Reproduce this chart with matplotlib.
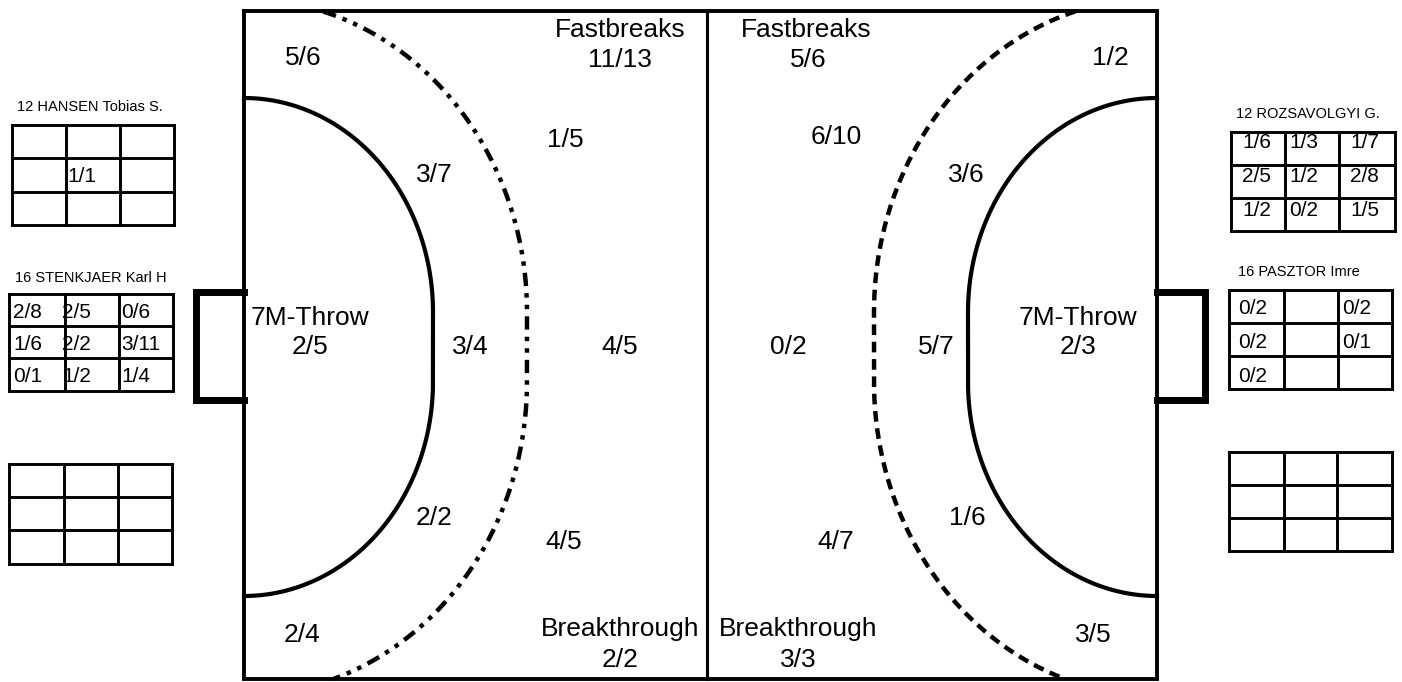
import matplotlib.pyplot as plt
import numpy as np

plt.rcParams['font.family'] = ['Liberation Sans', 'DejaVu Sans']

# ---- data: shots scored / attempted ----
left_zone_values = ["5/6", "3/7", "3/4", "2/2", "2/4", "1/5", "4/5", "4/5"]
left_fastbreaks = "11/13"
left_breakthrough = "2/2"
left_7m = "2/5"

right_zone_values = ["1/2", "3/6", "5/7", "1/6", "3/5", "6/10", "0/2", "4/7"]
right_fastbreaks = "5/6"
right_breakthrough = "3/3"
right_7m = "2/3"

left_keepers = ["12 HANSEN Tobias S.", "16 STENKJAER Karl H", ""]
left_keeper_grids = [
    [["", "", ""], ["", "1/1", ""], ["", "", ""]],
    [["2/8", "2/5", "0/6"], ["1/6", "2/2", "3/11"], ["0/1", "1/2", "1/4"]],
    [["", "", ""], ["", "", ""], ["", "", ""]],
]
right_keepers = ["12 ROZSAVOLGYI G.", "16 PASZTOR Imre", ""]
right_keeper_grids = [
    [["1/6", "1/3", "1/7"], ["2/5", "1/2", "2/8"], ["1/2", "0/2", "1/5"]],
    [["0/2", "", "0/2"], ["0/2", "", "0/1"], ["0/2", "", ""]],
    [["", "", ""], ["", "", ""], ["", "", ""]],
]

# ---- layout (pixel coordinates) ----
left_zone_pos = [(303, 58), (434, 175), (470, 347), (434, 518), (302, 635),
                 (565, 140), (620, 347), (564, 542)]
right_zone_pos = [(1110, 58), (966, 175), (936, 347), (967, 518), (1093, 635),
                  (836, 137), (788, 347), (836, 542)]

fig = plt.figure(figsize=(14.02, 6.82), dpi=100)
ax = fig.add_axes([0, 0, 1, 1])
ax.set_xlim(0, 1402)
ax.set_ylim(682, 0)
ax.axis('off')

X0, X1, Y0, Y1, XM = 244, 1157, 11, 679, 707
GP_TOP, GP_BOT = 312, 382

# court outline and centre line
ax.plot([X0, X1, X1, X0, X0], [Y0, Y0, Y1, Y1, Y0], color='black', lw=2.8,
        solid_joinstyle='miter')
ax.plot([XM, XM], [Y0, Y1], color='black', lw=2.2)

# goals
ax.plot([X0, 196, 196, X0], [GP_TOP - 20, GP_TOP - 20, GP_BOT + 18, GP_BOT + 18],
        color='black', lw=5, solid_joinstyle='miter')
ax.plot([X1, 1205, 1205, X1], [GP_TOP - 20, GP_TOP - 20, GP_BOT + 18, GP_BOT + 18],
        color='black', lw=5, solid_joinstyle='miter')


def goal_area(xpost, side, rx, ry):
    t = np.linspace(np.pi / 2, 0, 200)
    xu = xpost + side * rx * np.cos(t)
    yu = GP_TOP - ry * np.sin(t)
    xl = (xpost + side * rx * np.cos(t))[::-1]
    yl = (GP_BOT + ry * np.sin(t))[::-1]
    xs = np.concatenate([xu, xl])
    ys = np.concatenate([yu, yl])
    keep = (ys >= Y0) & (ys <= Y1)
    return xs[keep], ys[keep]


# 6 m lines
for xp, s in [(X0, 1), (X1, -1)]:
    gx, gy = goal_area(xp, s, 189, 214)
    ax.plot(gx, gy, color='black', lw=3)

# 9 m lines
gx, gy = goal_area(X0, 1, 283, 313)
ax.plot(gx, gy, color='black', lw=3.2, linestyle=(0, (3, 1.6, 1, 1.6, 1, 1.6)))
gx, gy = goal_area(X1, -1, 283, 314)
ax.plot(gx, gy, color='black', lw=3.2, linestyle=(0, (2.4, 1.5)))

FS = 19
for txt, (x, y) in zip(left_zone_values, left_zone_pos):
    ax.text(x, y, txt, fontsize=FS, ha='center', va='center')
for txt, (x, y) in zip(right_zone_values, right_zone_pos):
    ax.text(x, y, txt, fontsize=FS, ha='center', va='center')

ax.text(620, 30, "Fastbreaks", fontsize=FS, ha='center', va='center')
ax.text(620, 60, left_fastbreaks, fontsize=FS, ha='center', va='center')
ax.text(806, 30, "Fastbreaks", fontsize=FS, ha='center', va='center')
ax.text(808, 60, right_fastbreaks, fontsize=FS, ha='center', va='center')
ax.text(620, 629, "Breakthrough", fontsize=FS, ha='center', va='center')
ax.text(620, 660, left_breakthrough, fontsize=FS, ha='center', va='center')
ax.text(798, 629, "Breakthrough", fontsize=FS, ha='center', va='center')
ax.text(798, 660, right_breakthrough, fontsize=FS, ha='center', va='center')
ax.text(310, 318, "7M-Throw", fontsize=FS, ha='center', va='center')
ax.text(310, 347, left_7m, fontsize=FS, ha='center', va='center')
ax.text(1078, 318, "7M-Throw", fontsize=FS, ha='center', va='center')
ax.text(1078, 347, right_7m, fontsize=FS, ha='center', va='center')

# goalkeeper grids: (xs of column lines, ys of row lines, text x per column, text y per row, label pos)
left_grid_geo = [
    ([12, 66, 120, 174], [125, 158, 192, 225], [67, 67, 67], [177, 177, 177], (17, 107)),
    ([9, 65, 119, 173], [294, 326, 358, 391], [13, 62, 121], [313, 345, 377], (15, 278)),
    ([9, 64, 118, 172], [464, 497, 530, 564], [13, 62, 121], [480, 513, 547], (15, 448)),
]
left_grid_geo[0] = ([12, 66, 120, 174], [125, 158, 192, 225], [16, 67, 124], [143, 177, 210], (17, 107))
right_grid_geo = [
    ([1231, 1285, 1339, 1395], [132, 165, 198, 231], [1242, 1289, 1350], [143, 177, 211], (1236, 114)),
    ([1229, 1284, 1338, 1392], [290, 323, 356, 389], [1238, 1289, 1342], [309, 343, 377], (1238, 272)),
    ([1229, 1284, 1337, 1392], [452, 485, 518, 551], [1238, 1289, 1342], [470, 503, 536], (1238, 434)),
]

for names, grids, geos in [(left_keepers, left_keeper_grids, left_grid_geo),
                           (right_keepers, right_keeper_grids, right_grid_geo)]:
    for name, grid, (xs, ys, tx, ty, lab) in zip(names, grids, geos):
        for x in xs:
            ax.plot([x, x], [ys[0], ys[-1]], color='black', lw=2.1, solid_capstyle='projecting')
        for y in ys:
            ax.plot([xs[0], xs[-1]], [y, y], color='black', lw=2.1, solid_capstyle='projecting')
        if name:
            ax.text(lab[0], lab[1], name, fontsize=10.5, ha='left', va='center')
        for r, row in enumerate(grid):
            for c, val in enumerate(row):
                if val:
                    ax.text(tx[c], ty[r], val, fontsize=15, ha='left', va='center')

plt.savefig("out.png", dpi=100)
